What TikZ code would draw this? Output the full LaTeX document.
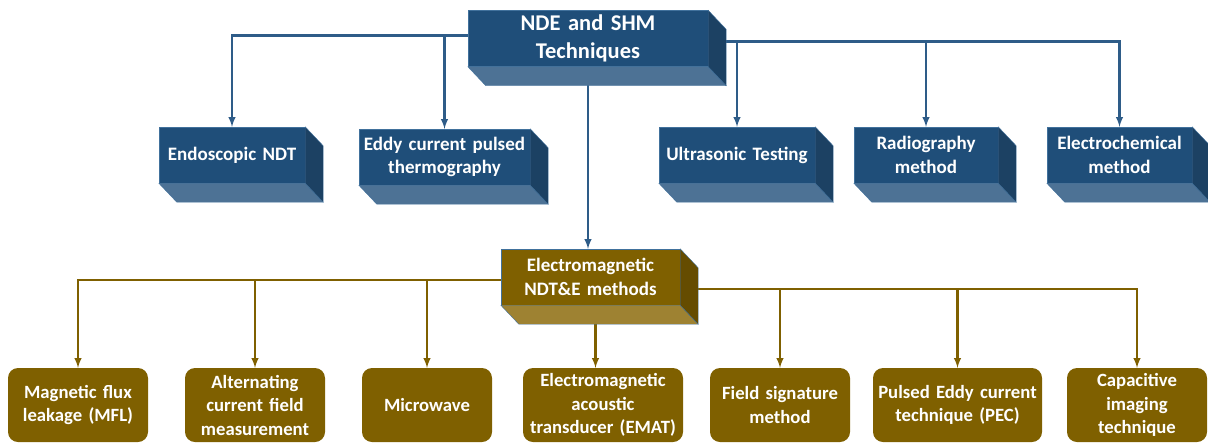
\documentclass[tikz,border=0pt]{standalone}
\usepackage{fontspec}
\setmainfont{Carlito}
\usetikzlibrary{backgrounds}

\definecolor{bluefront}{HTML}{1F4E79}
\definecolor{bluebottom}{HTML}{4D7295}
\definecolor{blueside}{HTML}{1C4163}
\definecolor{bluewire}{HTML}{2E5C88}
\definecolor{brownfront}{HTML}{7F6000}
\definecolor{brownbottom}{HTML}{9E8232}
\definecolor{brownside}{HTML}{654C00}
\definecolor{edgeblue}{HTML}{41719C}

% side and bottom faces of a raised block
\newcommand{\extrude}[3]{%
	\filldraw[fill=#2, draw=edgeblue, line width=0.4pt] (#1.south west) -- ++(18,19) -- ([shift={(18,19)}]#1.south east) -- (#1.south east) -- cycle;
	\filldraw[fill=#3, draw=edgeblue, line width=0.4pt] (#1.north east) -- ++(18,19) -- ([shift={(18,19)}]#1.south east) -- (#1.south east) -- cycle;
}

\tikzset{
	block/.style={fill=bluefront, draw=edgeblue, line width=0.4pt, text=white, inner sep=0pt,
			font=\fontsize{19}{23.5}\selectfont\bfseries, align=center, minimum height=56pt},
	emblock/.style={block, fill=brownfront},
	leaf/.style={fill=brownfront, rounded corners=10pt, text=white, inner sep=0pt,
			font=\fontsize{18.7}{23.5}\selectfont\bfseries, align=center, minimum height=74pt},
	bwire/.style={->, line width=2.3pt, bluewire},
	ewire/.style={->, line width=2.3pt, brownfront},
}

\begin{document}
\begin{tikzpicture}[x=1pt, y=-1pt, >=latex]
	\useasboundingbox (0,0) rectangle (1208,445);

	% root
	\node[block, minimum width=240pt, text width=234pt, font=\fontsize{22.5}{27.5}\selectfont\bfseries] (root) at (588,38.5) {NDE and SHM\\Techniques};
	\extrude{root}{bluebottom}{blueside}

	% second row
	\node[block, minimum width=146pt, text width=142pt] (endo) at (232,155) {Endoscopic NDT};
	\node[block, minimum width=171pt, text width=169pt] (eddy) at (444.5,157) {Eddy current pulsed\\thermography};
	\node[block, minimum width=156pt, text width=152pt] (ultra) at (737,155) {Ultrasonic Testing};
	\node[block, minimum width=144pt, text width=140pt] (radio) at (926,155) {Radiography\\method};
	\node[block, minimum width=145pt, text width=143pt] (chem) at (1119.5,155) {Electrochemical\\method};
	\foreach \nm in {endo,eddy,ultra,radio,chem} {
			\extrude{\nm}{bluebottom}{blueside}
		}

	\node[emblock, minimum width=179pt, text width=175pt] (em) at (590.5,277) {Electromagnetic\\NDT\&E methods};
	\extrude{em}{brownbottom}{brownside}

	% third row
	\foreach \nm/\cx/\w/\txt in {
			mfl/78/140/{Magnetic flux\\leakage (MFL)},
			acfm/255/140/{Alternating\\current field\\measurement},
			micro/427/130/{Microwave},
			emat/603/160/{Electromagnetic\\acoustic\\transducer (EMAT)},
			field/780/140/{Field signature\\method},
			pec/957.5/169/{Pulsed Eddy current\\technique (PEC)},
			cap/1137/140/{Capacitive\\imaging\\technique}} {
			\node[leaf, minimum width=\w pt, text width=\w pt] (\nm) at (\cx,405) {\txt};
		}

	% connectors
	\begin{scope}[on background layer]
		\draw[bwire] ([yshift=3pt]root.west) -| (endo.north);
		\draw[bwire] ([yshift=3pt]root.west) -| (eddy.north);
		\foreach \nm in {ultra,radio,chem} {
				\draw[bwire] ([shift={(18,3)}]root.east) -| (\nm.north);
			}
		\draw[bwire] (root.south) -- (root.south |- em.north);

		\foreach \nm in {mfl,acfm,micro} {
				\draw[ewire] ([yshift=-3pt]em.west) -| (\nm.north);
			}
		\draw[ewire] ([xshift=5pt]em.south) -- ([xshift=5pt]em.south |- emat.north);
		\foreach \nm in {field,pec,cap} {
				\draw[ewire] ([shift={(18,12)}]em.east) -| (\nm.north);
			}
	\end{scope}
\end{tikzpicture}
\end{document}
